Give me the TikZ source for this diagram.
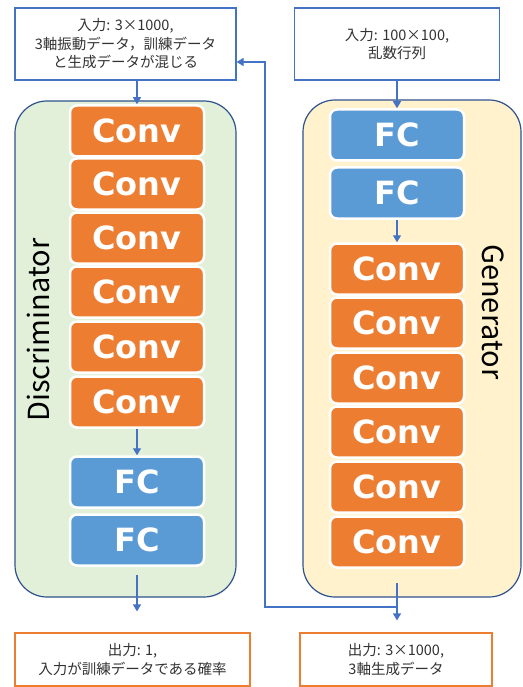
\documentclass[tikz,border=0pt]{standalone}
\usepackage{fontspec}
\usepackage{tikz}
\usetikzlibrary{arrows.meta}
\newfontfamily\jpfont{Noto Sans CJK JP}
\newfontfamily\blockfont{DejaVu Sans Bold}
\definecolor{convorange}{HTML}{ED7D31}
\definecolor{fcblue}{HTML}{5B9BD5}
\definecolor{linkblue}{HTML}{4472C4}
\definecolor{frameblue}{HTML}{2F528F}
\definecolor{discgreen}{HTML}{E2F0D9}
\definecolor{genyellow}{HTML}{FFF2CC}
\tikzset{
    block/.style={draw=white, line width=2.5pt, rounded corners=7pt,
        minimum width=134pt, minimum height=51pt, text=white,
        font=\blockfont\fontsize{32}{32}\selectfont},
    convblock/.style={block, fill=convorange},
    fcblock/.style={block, fill=fcblue},
    netframe/.style={draw=frameblue, line width=1.2pt, rounded corners=32pt},
    iobox/.style={draw=linkblue, line width=1.2pt, fill=white, align=center,
        inner sep=0pt, text=black!80, font=\jpfont\fontsize{14.5}{18.5}\selectfont},
    outbox/.style={iobox, draw=convorange},
    link/.style={draw=linkblue, line width=1.2pt,
        -{Triangle[width=8pt,length=7pt]}}}

\begin{document}
\begin{tikzpicture}[x=1pt, y=-1pt]
        \useasboundingbox (0,0) rectangle (522,687);

        % frames
        \node[netframe, fill=discgreen, minimum width=221pt, minimum height=496pt] (disc) at (125.5,349) {};
        \node[netframe, fill=genyellow, minimum width=218pt, minimum height=497pt] (gen) at (412,348.5) {};
        \node[rotate=90, font=\jpfont\fontsize{29}{29}\selectfont] (disclabel) at (38,330) {Discriminator};
        \node[rotate=-90, font=\jpfont\fontsize{29}{29}\selectfont] (genlabel) at (493,312) {Generator};

        % input / output boxes
        \node[iobox, minimum width=221pt, minimum height=72pt] (dinput) at (125.5,44)
            {入力: 3×1000,\\3軸振動データ，訓練データ\\と生成データが混じる};
        \node[iobox, minimum width=205pt, minimum height=72pt] (ginput) at (397,44)
            {入力: 100×100,\\乱数行列};
        \node[outbox, minimum width=235pt, minimum height=53pt] (doutput) at (132.5,659.5)
            {出力: 1,\\入力が訓練データである確率};
        \node[outbox, minimum width=192pt, minimum height=53pt] (goutput) at (396,659.5)
            {出力: 3×1000,\\3軸生成データ};

        % discriminator blocks
        \node[convblock] (dc1) at (137,131) {Conv};
        \node[convblock] (dc2) at (137,184) {Conv};
        \node[convblock] (dc3) at (137,238) {Conv};
        \node[convblock] (dc4) at (137,292) {Conv};
        \node[convblock] (dc5) at (137,347) {Conv};
        \node[convblock] (dc6) at (137,402) {Conv};
        \node[fcblock] (dfc1) at (137,482) {FC};
        \node[fcblock] (dfc2) at (137,540) {FC};

        % generator blocks
        \node[fcblock] (gfc1) at (397,135) {FC};
        \node[fcblock] (gfc2) at (397,193) {FC};
        \node[convblock] (gc1) at (397,269) {Conv};
        \node[convblock] (gc2) at (397,323) {Conv};
        \node[convblock] (gc3) at (397,378) {Conv};
        \node[convblock] (gc4) at (397,432) {Conv};
        \node[convblock] (gc5) at (397,487) {Conv};
        \node[convblock] (gc6) at (397,542) {Conv};

        \coordinate (dout) at (137,575);
        \coordinate (gout) at (397,583);
        \coordinate (turn) at (397,607);

        % connectors
        \draw[link] (dinput.south -| dc1) -- (dc1.north);
        \draw[link] (dc6) -- (dfc1);
        \draw[link] (dout) -- ([yshift=21pt]doutput.north -| dout);
        \draw[link] (ginput.south -| gfc1) -- (gfc1.north);
        \draw[link] (gfc2) -- (gc1);
        \draw[link] (gout) -- ([yshift=12pt]goutput.north -| gout);
        \draw[link] (turn) -| (265,62) -- (dinput.east |- 0,62);

\end{tikzpicture}
\end{document}
